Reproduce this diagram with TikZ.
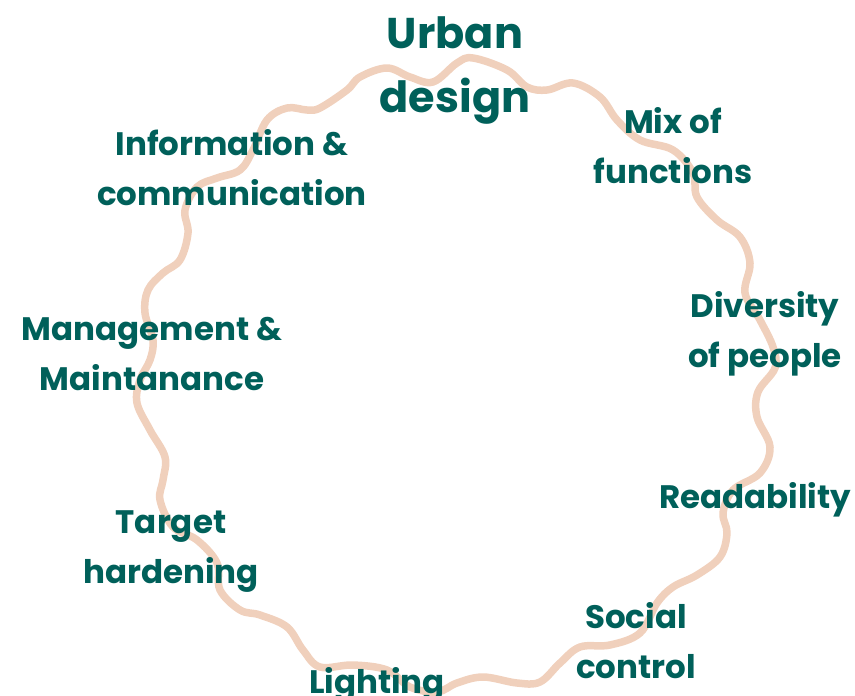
\documentclass[tikz,border=0pt]{standalone}
\usepackage{fontspec}
\setmainfont{Poppins}
\definecolor{tealish}{RGB}{0,96,90}
\definecolor{peachish}{RGB}{240,208,188}

\begin{document}
\begin{tikzpicture}[
  x=1pt,
  y=-1pt,
  factor/.style={
    text=tealish,
    align=center,
    anchor=base,
    inner sep=0pt,
    font=\bfseries\fontsize{32.5}{50}\selectfont
  },
  title/.style={
    factor,
    font=\bfseries\fontsize{43}{64}\selectfont
  },
  wave/.style={
    draw=peachish,
    line width=7.5pt,
    line join=round
  }
]
\useasboundingbox (0,0) rectangle (855,696);

% Wavy ring
\draw[wave] plot[smooth cycle, tension=0.6] coordinates {
  (473,58) (507,70) (527,87) (547,90) (573,83) (600,97) (617,120)
  (640,140) (673,150) (693,173) (697,197) (717,220) (740,237)
  (750,263) (745,293) (760,320) (773,347) (775,368) (758,392)
  (757,417) (770,447) (760,473) (733,490) (723,513) (727,533)
  (720,557) (697,575) (673,587) (657,603) (640,633) (610,645)
  (580,647) (560,663) (540,682) (517,683) (483,677) (457,683)
  (437,692) (410,687) (387,670) (353,665) (320,667) (303,650)
  (287,627) (260,615) (240,610) (220,590) (217,563) (197,540)
  (173,527) (160,500) (163,480) (165,457) (150,430) (137,403)
  (140,380) (150,360) (153,340) (145,313) (148,290) (163,273)
  (180,260) (188,233) (185,210) (197,187) (217,178) (240,170)
  (253,150) (267,120) (287,108) (307,110) (320,108) (347,90)
  (360,77) (387,68) (410,77) (433,82) (457,63)
};

% Labels (anchored at the baseline of the last line)
\node[title]  (urban)   at (455,112) {Urban\\design};
\node[factor] (mix)     at (673,183) {Mix of\\functions};
\node[factor] (divers)  at (765,367) {Diversity\\of people};
\node[factor] (read)    at (755,508) {Readability};
\node[factor] (social)  at (636,678) {Social\\control};
\node[factor] (light)   at (377,693) {Lighting};
\node[factor] (target)  at (171,583) {Target\\hardening};
\node[factor] (manage)  at (152,390) {Management \&\\Maintanance};
\node[factor] (info)    at (232,205) {Information \&\\communication};

\end{tikzpicture}
\end{document}
